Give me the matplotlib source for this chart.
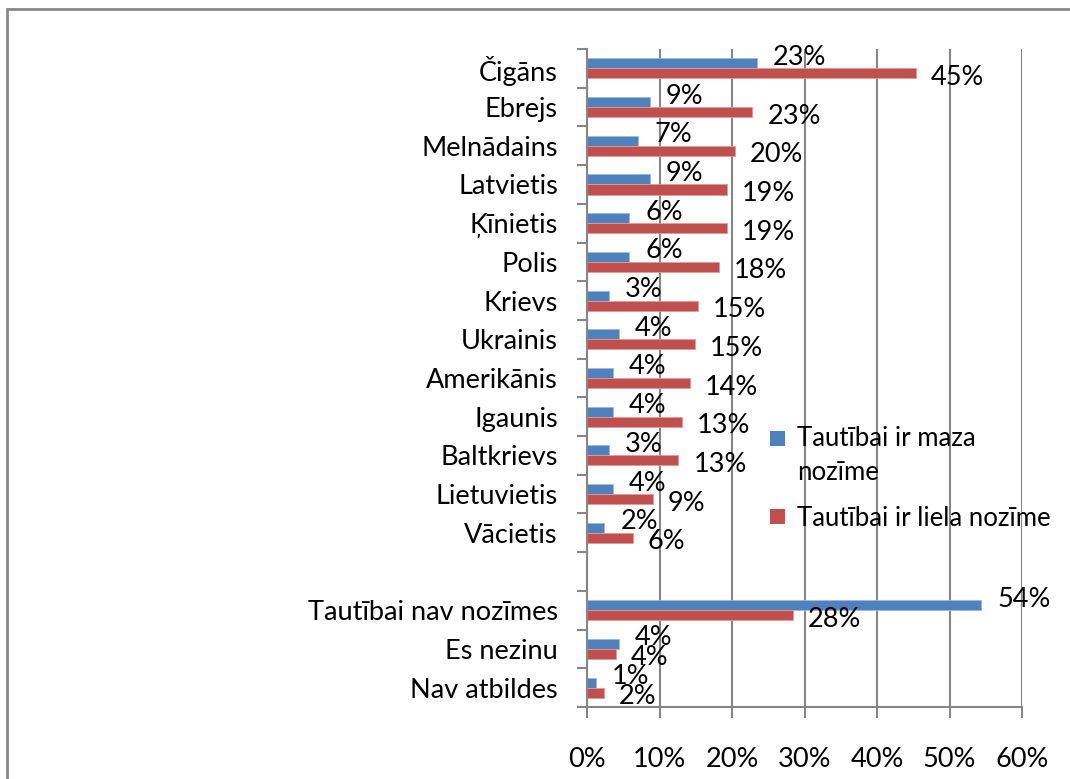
import matplotlib
matplotlib.use("Agg")
import matplotlib.pyplot as plt
import numpy as np
from matplotlib.patches import Patch, Rectangle
from matplotlib.legend_handler import HandlerPatch
from matplotlib.ticker import PercentFormatter, FixedLocator

plt.rcParams['font.family'] = ['Lato', 'DejaVu Sans']

# --- data ---
ethnic_categories = ["Čigāns", "Ebrejs", "Melnādains", "Latvietis", "Ķīnietis", "Polis",
                     "Krievs", "Ukrainis", "Amerikānis", "Igaunis", "Baltkrievs",
                     "Lietuvietis", "Vācietis"]
ethnic_small = [23.4, 8.7, 7.1, 8.7, 5.8, 5.8, 3.0, 4.4, 3.6, 3.6, 3.0, 3.6, 2.4]
ethnic_large = [45.4, 22.8, 20.4, 19.3, 19.3, 18.2, 15.3, 14.9, 14.2, 13.1, 12.6, 9.1, 6.3]

other_categories = ["Tautībai nav nozīmes", "Es nezinu", "Nav atbildes"]
other_small = [54.4, 4.4, 1.2]
other_large = [28.4, 4.0, 2.3]

series_names = ["Tautībai ir maza\nnozīme", "Tautībai ir liela nozīme"]
x_ticks = [0, 10, 20, 30, 40, 50, 60]

# --- assemble with a blank separator row ---
categories = ethnic_categories + [""] + other_categories
small = ethnic_small + [np.nan] + other_small
large = ethnic_large + [np.nan] + other_large

BLUE = "#4F81BD"
RED = "#C0504D"
GRID = "#868686"
FS = 19.5

fig = plt.figure(figsize=(10.70, 7.79), dpi=100)
ax = fig.add_axes([587/1070, 1-707/779, (1022-587)/1070, (707-49)/779])

y = np.arange(len(categories))
h = 0.26
bars_s = ax.barh(y - h/2, small, height=h, color=BLUE, edgecolor="#9DB8DC", linewidth=0.6, zorder=3)
bars_l = ax.barh(y + h/2, large, height=h, color=RED, edgecolor="#DE9C9A", linewidth=0.6, zorder=3)

ax.set_xlim(0, 60)
ax.set_ylim(len(categories) - 0.5, -0.5)

# data labels
for b, v in zip(bars_s, small):
    if np.isnan(v):
        continue
    ax.annotate(f"{v:.0f}%", (b.get_width(), b.get_y() + b.get_height()/2),
                xytext=(16, 6), textcoords="offset pixels", ha="left", va="center",
                fontsize=FS, color="black", zorder=5)
for b, v in zip(bars_l, large):
    if np.isnan(v):
        continue
    ax.annotate(f"{v:.0f}%", (b.get_width(), b.get_y() + b.get_height()/2),
                xytext=(15, -4), textcoords="offset pixels", ha="left", va="center",
                fontsize=FS, color="black", zorder=5)

# y axis: ticks at boundaries, labels at centers
ax.yaxis.set_major_locator(FixedLocator(np.arange(len(categories) + 1) - 0.5))
ax.yaxis.set_minor_locator(FixedLocator(y))
ax.set_yticklabels([], minor=False)
ax.set_yticklabels(categories, minor=True, fontsize=FS)
ax.tick_params(axis="y", which="major", length=7, width=1.5, color=GRID, direction="out")
ax.tick_params(axis="y", which="minor", length=0, pad=21)

# x axis
ax.set_xticks(x_ticks)
ax.xaxis.set_major_formatter(PercentFormatter(decimals=0))
ax.tick_params(axis="x", length=8, width=1.5, color=GRID, direction="out", pad=21, labelsize=FS)

ax.grid(axis="x", color=GRID, linewidth=1.5, zorder=0)
for s in ["top", "right"]:
    ax.spines[s].set_visible(False)
for s in ["left", "bottom"]:
    ax.spines[s].set_color(GRID)
    ax.spines[s].set_linewidth(1.5)
    ax.spines[s].set_zorder(4)


# legend with square markers aligned to the first text line
def square_func(dy):
    def f(legend, orig_handle, xdescent, ydescent, width, height, fontsize):
        s = 11.0
        return Rectangle((-xdescent, -ydescent + (height - s) / 2 + dy), s, s)
    return f


LFS = 18.5
h_small = Patch(facecolor=BLUE)
h_large = Patch(facecolor=RED)
leg = fig.legend([h_small, h_large], series_names, loc="upper left",
                 bbox_to_anchor=(770/1070, 1-426/779),
                 frameon=False, fontsize=LFS, handlelength=0.62, handleheight=0.62,
                 handletextpad=0.45, labelspacing=0.8, borderaxespad=0, borderpad=0,
                 handler_map={h_small: HandlerPatch(patch_func=square_func(13.0)),
                              h_large: HandlerPatch(patch_func=square_func(0.0))})
for t in leg.get_texts():
    t.set_linespacing(1.45)

# chart area border
fig.patches.append(Rectangle((7/1070, -0.1), 1.2, 1.1 - 9/779, transform=fig.transFigure,
                             fill=False, edgecolor="#888888", linewidth=2))

fig.savefig("out.png", dpi=100)
